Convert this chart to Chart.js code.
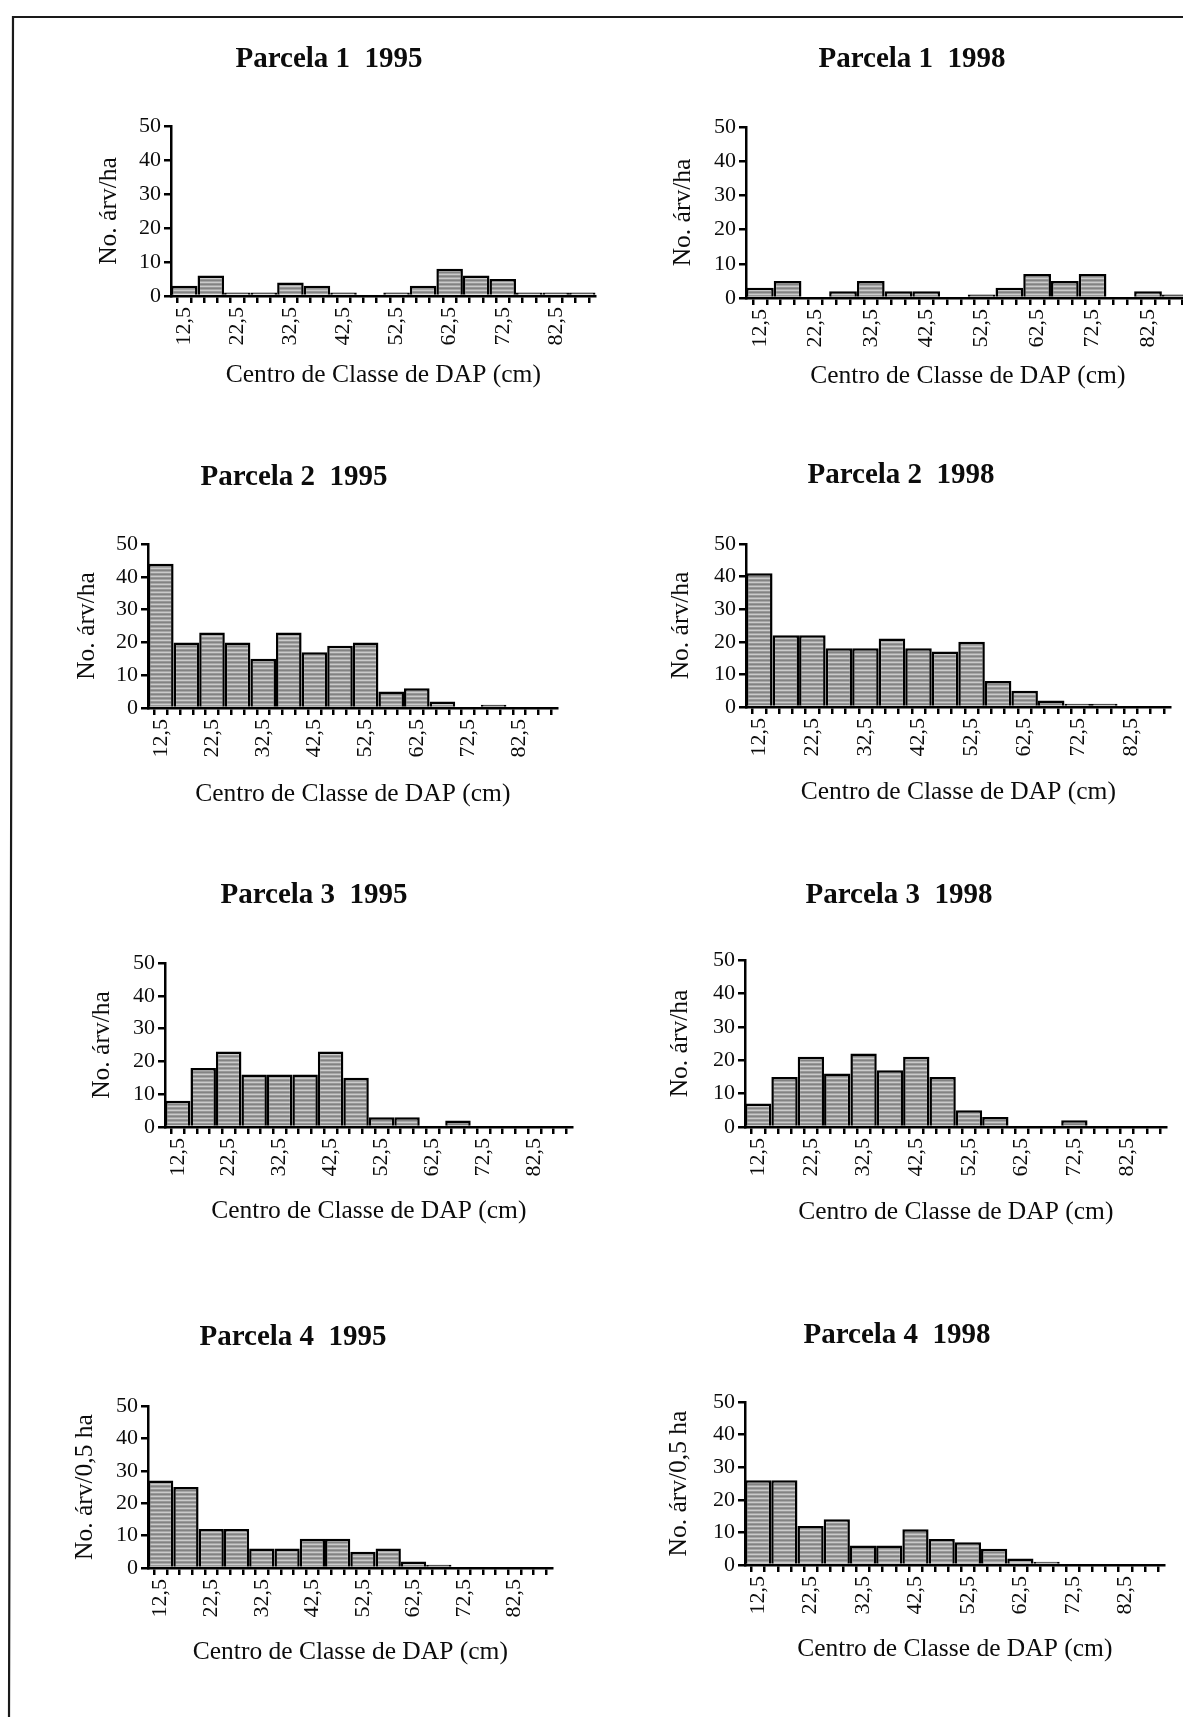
<!DOCTYPE html>
<html>
<head>
<meta charset="utf-8">
<script src="https://cdn.jsdelivr.net/npm/chart.js@4.4.1/dist/chart.umd.min.js"></script>
<style>
  html, body { margin: 0; padding: 0; background: #fff; }
  body { width: 1183px; height: 1717px; position: relative; overflow: hidden; }
  .panel { position: absolute; }
  svg.frame { position: absolute; left: 0; top: 0; }
</style>
</head>
<body>
<svg class="frame" width="1183" height="1717">
  <path d="M1183 17 L13 17 L9 1717" fill="none" stroke="#1a1a1a" stroke-width="2.2"/>
</svg>
<div id="panels"></div>
<script>
// DBH class centres (cm) and the labels printed under every other class
const classCenters = [12.5, 17.5, 22.5, 27.5, 32.5, 37.5, 42.5, 47.5,
                      52.5, 57.5, 62.5, 67.5, 72.5, 77.5, 82.5, 87.5];
const tickLabels = ['12,5', '22,5', '32,5', '42,5', '52,5', '62,5', '72,5', '82,5'];

// Trees per class
const parcela1_1995 = [3, 6, 1, 1, 4, 3, 1, 0, 1, 3, 8, 6, 5, 1, 1, 1];
const parcela1_1998 = [3, 5, 0, 2, 5, 2, 2, 0, 1, 3, 7, 5, 7, 0, 2, 1];
const parcela2_1995 = [44, 20, 23, 20, 15, 23, 17, 19, 20, 5, 6, 2, 0, 1, 0, 0];
const parcela2_1998 = [41, 22, 22, 18, 18, 21, 18, 17, 20, 8, 5, 2, 1, 1, 0, 0];
const parcela3_1995 = [8, 18, 23, 16, 16, 16, 23, 15, 3, 3, 0, 2, 0, 0, 0, 0];
const parcela3_1998 = [7, 15, 21, 16, 22, 17, 21, 15, 5, 3, 0, 0, 2, 0, 0, 0];
const parcela4_1995 = [27, 25, 12, 12, 6, 6, 9, 9, 5, 6, 2, 1, 0, 0, 0, 0];
const parcela4_1998 = [26, 26, 12, 14, 6, 6, 11, 8, 7, 5, 2, 1, 0, 0, 0, 0];

const xTitle = 'Centro de Classe de DAP (cm)';
const yTitleHa = 'No. árv/ha';
const yTitleHalfHa = 'No. árv/0,5 ha';

// Page placement of each plot (plot box, title and axis-title centres)
const panels = [
  { title: 'Parcela 1  1995', yTitle: yTitleHa, values: parcela1_1995,
    g: { plotL: 171, plotR: 596, plotT: 126, plotB: 296, titleX: 329, titleY: 59, xTitleY: 376, yTitleX: 109 } },
  { title: 'Parcela 1  1998', yTitle: yTitleHa, values: parcela1_1998,
    g: { plotL: 746, plotR: 1190, plotT: 127, plotB: 298, titleX: 912, titleY: 59, xTitleY: 377, yTitleX: 683 } },
  { title: 'Parcela 2  1995', yTitle: yTitleHa, values: parcela2_1995,
    g: { plotL: 148, plotR: 558, plotT: 544, plotB: 708, titleX: 294, titleY: 477, xTitleY: 795, yTitleX: 87 } },
  { title: 'Parcela 2  1998', yTitle: yTitleHa, values: parcela2_1998,
    g: { plotL: 746, plotR: 1171, plotT: 544, plotB: 707, titleX: 901, titleY: 475, xTitleY: 793, yTitleX: 681 } },
  { title: 'Parcela 3  1995', yTitle: yTitleHa, values: parcela3_1995,
    g: { plotL: 165, plotR: 573, plotT: 963, plotB: 1127, titleX: 314, titleY: 895, xTitleY: 1212, yTitleX: 102 } },
  { title: 'Parcela 3  1998', yTitle: yTitleHa, values: parcela3_1998,
    g: { plotL: 745, plotR: 1167, plotT: 960, plotB: 1127, titleX: 899, titleY: 895, xTitleY: 1213, yTitleX: 680 } },
  { title: 'Parcela 4  1995', yTitle: yTitleHalfHa, values: parcela4_1995,
    g: { plotL: 148, plotR: 553, plotT: 1406, plotB: 1568, titleX: 293, titleY: 1337, xTitleY: 1653, yTitleX: 85 } },
  { title: 'Parcela 4  1998', yTitle: yTitleHalfHa, values: parcela4_1998,
    g: { plotL: 745, plotR: 1165, plotT: 1402, plotB: 1565, titleX: 897, titleY: 1335, xTitleY: 1650, yTitleX: 679 } }
];

const FAMILY = '"Liberation Serif", "Times New Roman", serif';
const TITLE_SIZE = 29, AXIS_TITLE_SIZE = 25.5, TICK_SIZE = 22, LH = 1.2;
const INK = '#0c0c0c';

// horizontally striped grey fill of the bars
function stripeTile() {
  const c = document.createElement('canvas');
  c.width = 8; c.height = 4;
  const x = c.getContext('2d');
  ['#838383', '#a6a6a6', '#cbcbcb', '#979797'].forEach((col, i) => {
    x.fillStyle = col; x.fillRect(0, i, 8, 1);
  });
  return c;
}
const tile = stripeTile();

function labelFor(v) {
  const t = tickLabels.find(s => Math.abs(parseFloat(s.replace(',', '.')) - v) < 1e-6);
  return t || '';
}

const host = document.getElementById('panels');

panels.forEach(p => {
  const g = p.g;
  const tLH = TITLE_SIZE * LH, aLH = AXIS_TITLE_SIZE * LH;
  const left = Math.round(2 * g.titleX - g.plotR);
  const padR = 30;
  const tp = 2;
  const top = Math.round(g.titleY - tp - tLH / 2);
  const tb = g.plotT - top - tp - tLH;
  const pb = 2;
  const bottom = Math.round(g.xTitleY + aLH / 2 + pb);
  const width = g.plotR - left + padR;
  const height = bottom - top;
  const yW = g.plotL - left;
  const xH = bottom - g.plotB;
  const yPad = g.yTitleX - left - aLH / 2;

  const div = document.createElement('div');
  div.className = 'panel';
  div.style.left = left + 'px';
  div.style.top = top + 'px';
  const cv = document.createElement('canvas');
  cv.width = width; cv.height = height;
  cv.style.width = width + 'px'; cv.style.height = height + 'px';
  div.appendChild(cv);
  host.appendChild(div);

  const ctx = cv.getContext('2d');
  const fill = ctx.createPattern(tile, 'repeat');

  new Chart(ctx, {
    type: 'bar',
    data: {
      datasets: [{
        data: classCenters.map((c, i) => ({ x: c, y: p.values[i] })),
        backgroundColor: fill,
        borderColor: '#000',
        borderWidth: 2.5,
        barPercentage: 1.0,
        categoryPercentage: 2.0
      }]
    },
    options: {
      responsive: false,
      animation: false,
      devicePixelRatio: 1,
      layout: { padding: { left: 0, top: 0, right: padR, bottom: 0 } },
      plugins: {
        legend: { display: false },
        tooltip: { enabled: false },
        title: {
          display: true,
          text: p.title,
          color: INK,
          font: { family: FAMILY, size: TITLE_SIZE, weight: 'bold', lineHeight: LH },
          padding: { top: tp, bottom: tb }
        }
      },
      scales: {
        x: {
          type: 'linear',
          min: 10, max: 90,
          offset: false,
          afterFit: s => { s.height = xH; },
          grid: { display: true, drawOnChartArea: false, drawTicks: true, tickLength: 7,
                  tickColor: '#000', tickWidth: 2.5, color: '#000', lineWidth: 2.5 },
          border: { display: true, color: '#000', width: 2.5 },
          ticks: {
            stepSize: 2.5,
            autoSkip: false,
            minRotation: 90, maxRotation: 90,
            padding: 4,
            color: INK,
            font: { family: FAMILY, size: TICK_SIZE, lineHeight: LH },
            callback: v => labelFor(v)
          },
          title: {
            display: true, text: xTitle, color: INK,
            font: { family: FAMILY, size: AXIS_TITLE_SIZE, lineHeight: LH },
            padding: { top: 0, bottom: pb }
          }
        },
        y: {
          min: 0, max: 50,
          afterFit: s => { s.width = yW; },
          grid: { display: true, drawOnChartArea: false, drawTicks: true, tickLength: 7,
                  tickColor: '#000', tickWidth: 2.5, color: '#000', lineWidth: 2.5 },
          border: { display: true, color: '#000', width: 2.5 },
          ticks: {
            stepSize: 10,
            padding: 3,
            color: INK,
            font: { family: FAMILY, size: TICK_SIZE, lineHeight: LH }
          },
          title: {
            display: true, text: p.yTitle, color: INK,
            font: { family: FAMILY, size: AXIS_TITLE_SIZE, lineHeight: LH },
            padding: { top: yPad, bottom: 0 }
          }
        }
      }
    }
  });
});
</script>
</body>
</html>
